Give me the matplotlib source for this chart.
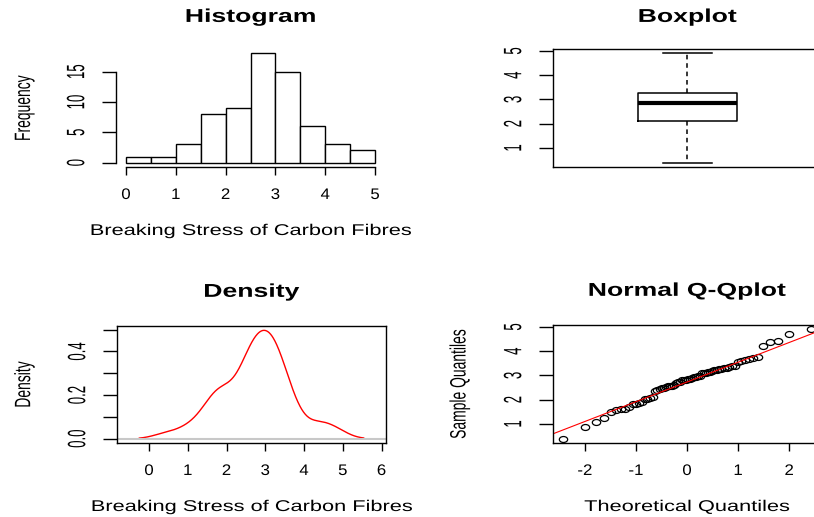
import matplotlib
matplotlib.use('Agg')
import matplotlib.pyplot as plt
import numpy as np
from statistics import NormalDist
from matplotlib.patheffects import AbstractPathEffect
from matplotlib.transforms import Affine2D
from matplotlib.path import Path

# breaking stress of 66 carbon fibres
stress = [0.39, 0.85, 1.08, 1.25, 1.47, 1.57, 1.61, 1.61, 1.69, 1.80, 1.84,
          1.87, 1.89, 2.03, 2.03, 2.05, 2.12, 2.35, 2.41, 2.43, 2.48, 2.50,
          2.53, 2.55, 2.55, 2.56, 2.59, 2.67, 2.73, 2.74, 2.79, 2.81, 2.82,
          2.85, 2.87, 2.88, 2.93, 2.95, 2.96, 2.97, 3.09, 3.11, 3.11, 3.15,
          3.15, 3.19, 3.22, 3.22, 3.27, 3.28, 3.31, 3.31, 3.33, 3.39, 3.39,
          3.56, 3.60, 3.65, 3.68, 3.70, 3.75, 4.20, 4.38, 4.42, 4.70, 4.90]

hist_edges = [0, 0.5, 1, 1.5, 2, 2.5, 3, 3.5, 4, 4.5, 5]
hist_yticks = [0, 5, 10, 15]
stress_ticks = [0, 1, 2, 3, 4, 5]
box_yticks = [1, 2, 3, 4, 5]
dens_xticks = [0, 1, 2, 3, 4, 5, 6]
dens_yticks = [0, 0.1, 0.2, 0.3, 0.4, 0.5]
dens_ylabels = ['0.0', '', '0.2', '', '0.4', '']
qq_xticks = [-2, -1, 0, 1, 2]
qq_yticks = [1, 2, 3, 4, 5]

x = np.sort(np.array(stress))
n = len(x)


class Widen(AbstractPathEffect):
    """Stretch a text path sideways about its own middle."""
    def __init__(self, factor):
        super().__init__()
        self.factor = factor

    def draw_path(self, renderer, gc, tpath, affine, rgbFace=None):
        box = tpath.get_extents(affine)
        mid = (box.x0 + box.x1) / 2
        stretch = Affine2D().translate(-mid, 0).scale(self.factor, 1).translate(mid, 0)
        renderer.draw_path(gc, tpath, affine + stretch, rgbFace)


def padded(lo, hi):
    d = 0.04 * (hi - lo)
    return lo - d, hi + d


plt.rcParams['font.family'] = 'Liberation Sans'
plt.rcParams['axes.linewidth'] = 1.0
plt.rcParams['axes.unicode_minus'] = False

W, H = 814, 517
fig = plt.figure(figsize=(W / 100, H / 100), dpi=100)


def panel(left, top, right, bottom):
    return fig.add_axes([left / W, 1 - bottom / H, (right - left) / W, (bottom - top) / H])


def dress(ax, title, xlabel, ylabel, title_pad, ylabel_x):
    ax.set_title(title, fontsize=13.4, fontweight='bold', pad=title_pad)
    ax.title.set_path_effects([Widen(1.43)])
    ax.tick_params(axis='x', length=6.1, width=1, pad=9, labelsize=11)
    ax.tick_params(axis='y', length=10, width=1, pad=18, labelsize=9.5, labelrotation=90)
    for lbl in ax.get_xticklabels():
        lbl.set_path_effects([Widen(1.1)])
    for lbl in ax.get_yticklabels():
        lbl.set_ha('center')
        lbl.set_va('center')
        lbl.set_path_effects([Widen(1.9)])
    h = ax.bbox.height
    if xlabel:
        ax.set_xlabel(xlabel, fontsize=11.2)
        ax.xaxis.set_label_coords(0.5, -56 / h)
        ax.xaxis.label.set_path_effects([Widen(1.4)])
    ax.set_ylabel(ylabel, fontsize=10, va='center', ha='center')
    ax.yaxis.set_label_coords(ylabel_x, 0.5)
    ax.yaxis.label.set_path_effects([Widen(1.6)])


# histogram, counted on right-closed bins
edges = np.array(hist_edges)
counts = np.diff(np.searchsorted(x, edges, side='right'))
ax1 = panel(116, 49, 385, 167)
ax1.bar(edges[:-1], counts, width=np.diff(edges), align='edge',
        color='white', edgecolor='black', linewidth=1)
ax1.set_xlim(-0.2, 5.2)
ax1.set_ylim(-0.72, 18.72)
ax1.set_xticks(stress_ticks)
ax1.set_yticks(hist_yticks)
ax1.spines['top'].set_visible(False)
ax1.spines['right'].set_visible(False)
ax1.spines['left'].set_bounds(0, 15)
ax1.spines['bottom'].set_bounds(0, 5)
dress(ax1, 'Histogram', 'Breaking Stress of Carbon Fibres', 'Frequency', 19.5, (24 - 116) / 269)

# boxplot with Tukey hinges
n4 = np.floor((n + 3) / 2) / 2
lower = 0.5 * (x[int(np.floor(n4)) - 1] + x[int(np.ceil(n4)) - 1])
upper = 0.5 * (x[int(np.floor(n + 1 - n4)) - 1] + x[int(np.ceil(n + 1 - n4)) - 1])
stats = [dict(med=np.median(x), q1=lower, q3=upper, whislo=x[0], whishi=x[-1], fliers=[])]
ax2 = panel(553, 49, 822, 167)
ax2.bxp(stats, positions=[1], widths=0.4, capwidths=0.2, showfliers=False, manage_ticks=False,
        boxprops=dict(color='black', linewidth=1.1),
        medianprops=dict(color='black', linewidth=3, solid_capstyle='butt'),
        whiskerprops=dict(color='black', linewidth=1.1, linestyle=(0, (3, 2.5))),
        capprops=dict(color='black', linewidth=1.1))
ax2.set_xlim(0.46, 1.54)
ax2.set_ylim(*padded(x[0], x[-1]))
ax2.set_xticks([])
ax2.set_yticks(box_yticks)
dress(ax2, 'Boxplot', None, '', 19.5, -0.35)

# kernel density, gaussian kernel with the nrd0 bandwidth
q1, q3 = np.quantile(x, [0.25, 0.75])
bw = 0.9 * min(np.std(x, ddof=1), (q3 - q1) / 1.34) * n ** -0.2
grid = np.linspace(x[0] - 2 * bw, x[-1] + 2 * bw, 512)
dens = np.exp(-0.5 * ((grid[:, None] - x) / bw) ** 2).sum(axis=1) / (n * bw * np.sqrt(2 * np.pi))
ax3 = panel(117, 326, 386, 443)
ax3.plot(grid, dens, color='red', linewidth=1)
ax3.axhline(0, color='#c8c8c8', linewidth=1.5)
ax3.set_xlim(*padded(x[0] - 3 * bw, x[-1] + 3 * bw))
ax3.set_ylim(*padded(0, dens.max()))
ax3.set_xticks(dens_xticks)
ax3.set_yticks(dens_yticks, labels=dens_ylabels)
dress(ax3, 'Density', 'Breaking Stress of Carbon Fibres', 'Density', 21, (24 - 117) / 269)

# normal quantile plot with the quartile line
nd = NormalDist()
theo = np.array([nd.inv_cdf((i - 0.5) / n) for i in range(1, n + 1)])
slope = (q3 - q1) / (nd.inv_cdf(0.75) - nd.inv_cdf(0.25))
icpt = q1 - slope * nd.inv_cdf(0.25)
ring = Path.unit_circle().transformed(Affine2D().scale(1.4, 1))
ax4 = panel(553, 325, 821, 443)
ax4.plot(theo, x, linestyle='none', marker=ring, markersize=6,
         markerfacecolor='none', markeredgecolor='black', markeredgewidth=0.9)
ax4.axline((0, icpt), slope=slope, color='red', linewidth=0.8)
ax4.set_xlim(*padded(theo[0], theo[-1]))
ax4.set_ylim(*padded(x[0], x[-1]))
ax4.set_xticks(qq_xticks)
ax4.set_yticks(qq_yticks)
dress(ax4, 'Normal Q-Qplot', 'Theoretical Quantiles', 'Sample Quantiles', 21, (459 - 553) / 269)

fig.savefig('out.png', dpi=100)
